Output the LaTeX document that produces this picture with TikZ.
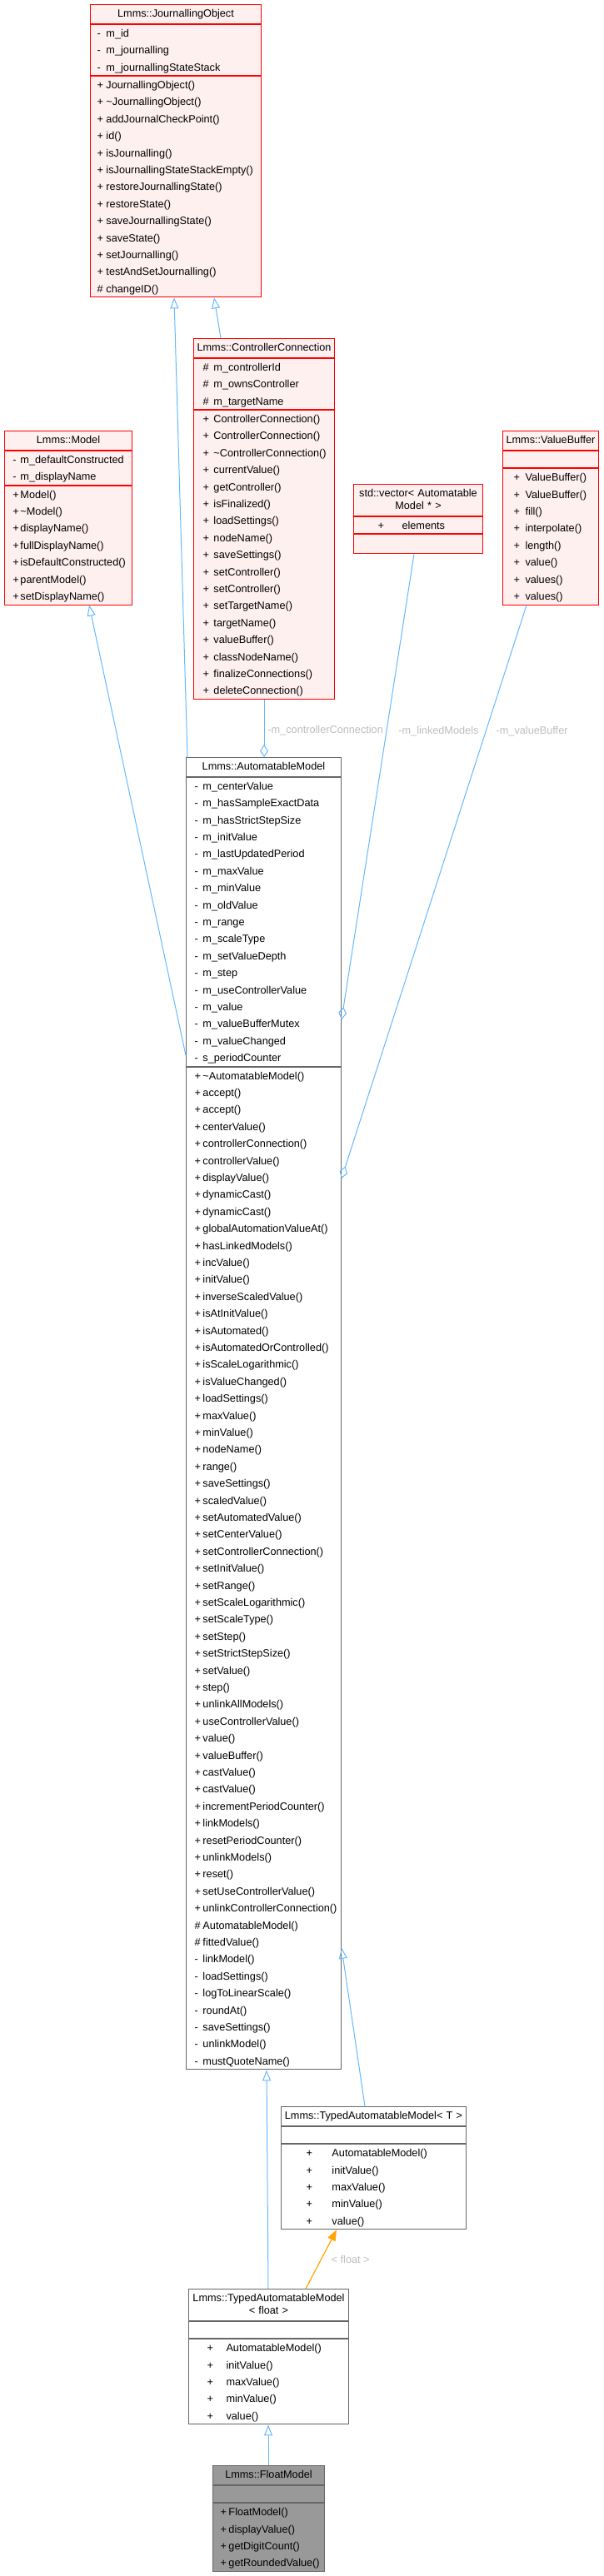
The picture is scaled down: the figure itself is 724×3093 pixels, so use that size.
\documentclass[tikz,border=0pt]{standalone}
\usepackage{fontspec}
\setmainfont{Liberation Sans}
\usetikzlibrary{arrows.meta, positioning, calc}
\definecolor{clsfill}{HTML}{FFF0F0}
\definecolor{clsgray}{HTML}{666666}
\definecolor{fmfill}{HTML}{999999}
\definecolor{edgeblue}{HTML}{63B8FF}
\definecolor{lblgray}{HTML}{BDBDBD}
\definecolor{tmplorange}{HTML}{FFA500}
\newlength{\viscol}
\newcommand{\mstrut}{\rule[-5.6pt]{0pt}{20.4pt}}
\newcommand{\hstrut}{\rule[-4pt]{0pt}{15pt}}
\newcommand{\mb}[2]{\makebox[\viscol][l]{#1}\mbox{#2}\mstrut}

\begin{document}
\begin{tikzpicture}[x=1pt, y=-1pt,
    redcls/.style={draw=red, fill=clsfill, line width=1pt},
    graycls/.style={draw=clsgray, fill=white, line width=1pt},
    hd/.style={text width=#1, inner xsep=2pt, inner ysep=4pt, align=center,
        font=\fontsize{12.7}{15}\selectfont},
    sec/.style n args={3}{text width=#1, inner xsep=#2, inner ysep=0pt, align=left,
        font=\fontsize{12.7}{20.4}\selectfont,
        execute at begin node={\setlength{\viscol}{#3}}},
    emp/.style 2 args={minimum width=#1, minimum height=#2, inner sep=0pt},
    inh/.style={-{Triangle[open, length=13pt, width=10pt]}, edgeblue, line width=1pt},
    comp/.style={-{Diamond[open, length=15pt, width=10pt]}, edgeblue, line width=1pt},
    tmpl/.style={-{Triangle[length=13pt, width=10pt]}, tmplorange, line width=1.2pt},
    lbl/.style={text=lblgray, font=\fontsize{12.7}{15}\selectfont, anchor=west, inner sep=0pt}
]
\useasboundingbox (0,0) rectangle (724,3093);

% ===== JournallingObject =====
\node[redcls, hd=201pt, anchor=north west] (jo) at (108,5) {Lmms::JournallingObject\hstrut};
\node[redcls, sec={189pt}{8pt}{11pt}, below=0pt of jo] (jo-a)
    {\mb{-}{m\_id}\\
     \mb{-}{m\_journalling}\\
     \mb{-}{m\_journallingStateStack}};
\node[redcls, sec={189pt}{8pt}{11pt}, below=0pt of jo-a] (jo-m)
    {\mb{+}{JournallingObject()}\\
     \mb{+}{\textasciitilde JournallingObject()}\\
     \mb{+}{addJournalCheckPoint()}\\
     \mb{+}{id()}\\
     \mb{+}{isJournalling()}\\
     \mb{+}{isJournallingStateStackEmpty()}\\
     \mb{+}{restoreJournallingState()}\\
     \mb{+}{restoreState()}\\
     \mb{+}{saveJournallingState()}\\
     \mb{+}{saveState()}\\
     \mb{+}{setJournalling()}\\
     \mb{+}{testAndSetJournalling()}\\
     \mb{\#}{changeID()}};

% ===== Model =====
\node[redcls, hd=149pt, anchor=north west] (model) at (5,517) {Lmms::Model\hstrut};
\node[redcls, sec={133pt}{10pt}{9pt}, below=0pt of model] (model-a)
    {\mb{-}{m\_defaultConstructed}\\
     \mb{-}{m\_displayName}};
\node[redcls, sec={133pt}{10pt}{9pt}, below=0pt of model-a] (model-m)
    {\mb{+}{Model()}\\
     \mb{+}{\textasciitilde Model()}\\
     \mb{+}{displayName()}\\
     \mb{+}{fullDisplayName()}\\
     \mb{+}{isDefaultConstructed()}\\
     \mb{+}{parentModel()}\\
     \mb{+}{setDisplayName()}};

% ===== ControllerConnection =====
\node[redcls, hd=165pt, anchor=north west] (cc) at (232,406) {Lmms::ControllerConnection\hstrut};
\node[redcls, sec={147pt}{11pt}{13pt}, below=0pt of cc] (cc-a)
    {\mb{\#}{m\_controllerId}\\
     \mb{\#}{m\_ownsController}\\
     \mb{\#}{m\_targetName}};
\node[redcls, sec={147pt}{11pt}{13pt}, below=0pt of cc-a] (cc-m)
    {\mb{+}{ControllerConnection()}\\
     \mb{+}{ControllerConnection()}\\
     \mb{+}{\textasciitilde ControllerConnection()}\\
     \mb{+}{currentValue()}\\
     \mb{+}{getController()}\\
     \mb{+}{isFinalized()}\\
     \mb{+}{loadSettings()}\\
     \mb{+}{nodeName()}\\
     \mb{+}{saveSettings()}\\
     \mb{+}{setController()}\\
     \mb{+}{setController()}\\
     \mb{+}{setTargetName()}\\
     \mb{+}{targetName()}\\
     \mb{+}{valueBuffer()}\\
     \mb{+}{classNodeName()}\\
     \mb{+}{finalizeConnections()}\\
     \mb{+}{deleteConnection()}};

% ===== std::vector =====
\node[redcls, hd=151pt, anchor=north west] (vec) at (424,581)
    {std::vector< Automatable\hstrut\\Model * >\hstrut};
\node[redcls, sec={97pt}{29pt}{29pt}, below=0pt of vec] (vec-a) {\mb{+}{elements}};
\node[redcls, emp={155pt}{23pt}, below=0pt of vec-a] (vec-e) {};

% ===== ValueBuffer =====
\node[redcls, hd=111pt, anchor=north west] (vb) at (603,517) {Lmms::ValueBuffer\hstrut};
\node[redcls, emp={115pt}{20.4pt}, below=0pt of vb] (vb-a) {};
\node[redcls, sec={89pt}{13pt}{14pt}, below=0pt of vb-a] (vb-m)
    {\mb{+}{ValueBuffer()}\\
     \mb{+}{ValueBuffer()}\\
     \mb{+}{fill()}\\
     \mb{+}{interpolate()}\\
     \mb{+}{length()}\\
     \mb{+}{value()}\\
     \mb{+}{values()}\\
     \mb{+}{values()}};

% ===== AutomatableModel =====
\node[graycls, hd=182pt, anchor=north west] (am) at (223,909) {Lmms::AutomatableModel\hstrut};
\node[graycls, sec={166pt}{10pt}{10pt}, below=0pt of am] (am-a)
    {\mb{-}{m\_centerValue}\\
     \mb{-}{m\_hasSampleExactData}\\
     \mb{-}{m\_hasStrictStepSize}\\
     \mb{-}{m\_initValue}\\
     \mb{-}{m\_lastUpdatedPeriod}\\
     \mb{-}{m\_maxValue}\\
     \mb{-}{m\_minValue}\\
     \mb{-}{m\_oldValue}\\
     \mb{-}{m\_range}\\
     \mb{-}{m\_scaleType}\\
     \mb{-}{m\_setValueDepth}\\
     \mb{-}{m\_step}\\
     \mb{-}{m\_useControllerValue}\\
     \mb{-}{m\_value}\\
     \mb{-}{m\_valueBufferMutex}\\
     \mb{-}{m\_valueChanged}\\
     \mb{-}{s\_periodCounter}};
\node[graycls, sec={166pt}{10pt}{10pt}, below=0pt of am-a] (am-m)
    {\mb{+}{\textasciitilde AutomatableModel()}\\
     \mb{+}{accept()}\\
     \mb{+}{accept()}\\
     \mb{+}{centerValue()}\\
     \mb{+}{controllerConnection()}\\
     \mb{+}{controllerValue()}\\
     \mb{+}{displayValue()}\\
     \mb{+}{dynamicCast()}\\
     \mb{+}{dynamicCast()}\\
     \mb{+}{globalAutomationValueAt()}\\
     \mb{+}{hasLinkedModels()}\\
     \mb{+}{incValue()}\\
     \mb{+}{initValue()}\\
     \mb{+}{inverseScaledValue()}\\
     \mb{+}{isAtInitValue()}\\
     \mb{+}{isAutomated()}\\
     \mb{+}{isAutomatedOrControlled()}\\
     \mb{+}{isScaleLogarithmic()}\\
     \mb{+}{isValueChanged()}\\
     \mb{+}{loadSettings()}\\
     \mb{+}{maxValue()}\\
     \mb{+}{minValue()}\\
     \mb{+}{nodeName()}\\
     \mb{+}{range()}\\
     \mb{+}{saveSettings()}\\
     \mb{+}{scaledValue()}\\
     \mb{+}{setAutomatedValue()}\\
     \mb{+}{setCenterValue()}\\
     \mb{+}{setControllerConnection()}\\
     \mb{+}{setInitValue()}\\
     \mb{+}{setRange()}\\
     \mb{+}{setScaleLogarithmic()}\\
     \mb{+}{setScaleType()}\\
     \mb{+}{setStep()}\\
     \mb{+}{setStrictStepSize()}\\
     \mb{+}{setValue()}\\
     \mb{+}{step()}\\
     \mb{+}{unlinkAllModels()}\\
     \mb{+}{useControllerValue()}\\
     \mb{+}{value()}\\
     \mb{+}{valueBuffer()}\\
     \mb{+}{castValue()}\\
     \mb{+}{castValue()}\\
     \mb{+}{incrementPeriodCounter()}\\
     \mb{+}{linkModels()}\\
     \mb{+}{resetPeriodCounter()}\\
     \mb{+}{unlinkModels()}\\
     \mb{+}{reset()}\\
     \mb{+}{setUseControllerValue()}\\
     \mb{+}{unlinkControllerConnection()}\\
     \mb{\#}{AutomatableModel()}\\
     \mb{\#}{fittedValue()}\\
     \mb{-}{linkModel()}\\
     \mb{-}{loadSettings()}\\
     \mb{-}{logToLinearScale()}\\
     \mb{-}{roundAt()}\\
     \mb{-}{saveSettings()}\\
     \mb{-}{unlinkModel()}\\
     \mb{-}{mustQuoteName()}};

% ===== TypedAutomatableModel< T > =====
\node[graycls, hd=218pt, anchor=north west] (tamt) at (337,2529)
    {Lmms::TypedAutomatableModel< T >\hstrut};
\node[graycls, emp={222pt}{20.4pt}, below=0pt of tamt] (tamt-a) {};
\node[graycls, sec={162pt}{30pt}{31pt}, below=0pt of tamt-a] (tamt-m)
    {\mb{+}{AutomatableModel()}\\
     \mb{+}{initValue()}\\
     \mb{+}{maxValue()}\\
     \mb{+}{minValue()}\\
     \mb{+}{value()}};

% ===== TypedAutomatableModel< float > =====
\node[graycls, hd=188pt, anchor=north west] (tamf) at (226,2748)
    {Lmms::TypedAutomatableModel\hstrut\\< float >\hstrut};
\node[graycls, emp={192pt}{20.4pt}, below=0pt of tamf] (tamf-a) {};
\node[graycls, sec={148pt}{22pt}{23pt}, below=0pt of tamf-a] (tamf-m)
    {\mb{+}{AutomatableModel()}\\
     \mb{+}{initValue()}\\
     \mb{+}{maxValue()}\\
     \mb{+}{minValue()}\\
     \mb{+}{value()}};

% ===== FloatModel =====
\node[graycls, fill=fmfill, hd=130pt, anchor=north west] (fm) at (255,2960) {Lmms::FloatModel\hstrut};
\node[graycls, fill=fmfill, emp={134pt}{20.4pt}, below=0pt of fm] (fm-a) {};
\node[graycls, fill=fmfill, sec={116pt}{9pt}{10pt}, below=0pt of fm-a] (fm-m)
    {\mb{+}{FloatModel()}\\
     \mb{+}{displayValue()}\\
     \mb{+}{getDigitCount()}\\
     \mb{+}{getRoundedValue()}};

% ===== connectors =====
\draw[inh] ($(am.north west)+(2,0)$) -- ($(jo-m.south west)+(101,0)$);
\draw[inh] ($(cc.north west)+(33,0)$) -- ($(jo-m.south west)+(149,0)$);
\draw[inh] ($(am-a.north west)+(0,334)$) -- ($(model-m.south west)+(102,0)$);
\draw[comp] ($(cc-m.south west)+(85,0)$) -- ($(am.north west)+(94,0)$)
    node[lbl, pos=0.54, xshift=4pt] {-m\_controllerConnection};
\draw[comp] ($(vec-e.south west)+(73,0)$) -- ($(am-a.north east)+(0,291)$)
    node[lbl, pos=0.38, xshift=14pt] {-m\_linkedModels};
\draw[comp] ($(vb-m.south west)+(29,0)$) -- ($(am-m.north east)+(0,134)$)
    node[lbl, pos=0.22, xshift=12pt] {-m\_valueBuffer};
\draw[inh] ($(tamt.north west)+(101,0)$) -- ($(am-m.north east)+(0,1058)$);
\draw[inh] ($(tamf.north west)+(96,0)$) -- ($(am-m.south west)+(97,0)$);
\draw[tmpl] ($(tamf.north west)+(141,0)$) -- ($(tamt-m.south west)+(67,0)$)
    node[lbl, pos=0.49, xshift=12pt] {< float >};
\draw[inh] ($(fm.north west)+(67,0)$) -- ($(tamf-m.south west)+(96,0)$);
\end{tikzpicture}
\end{document}
